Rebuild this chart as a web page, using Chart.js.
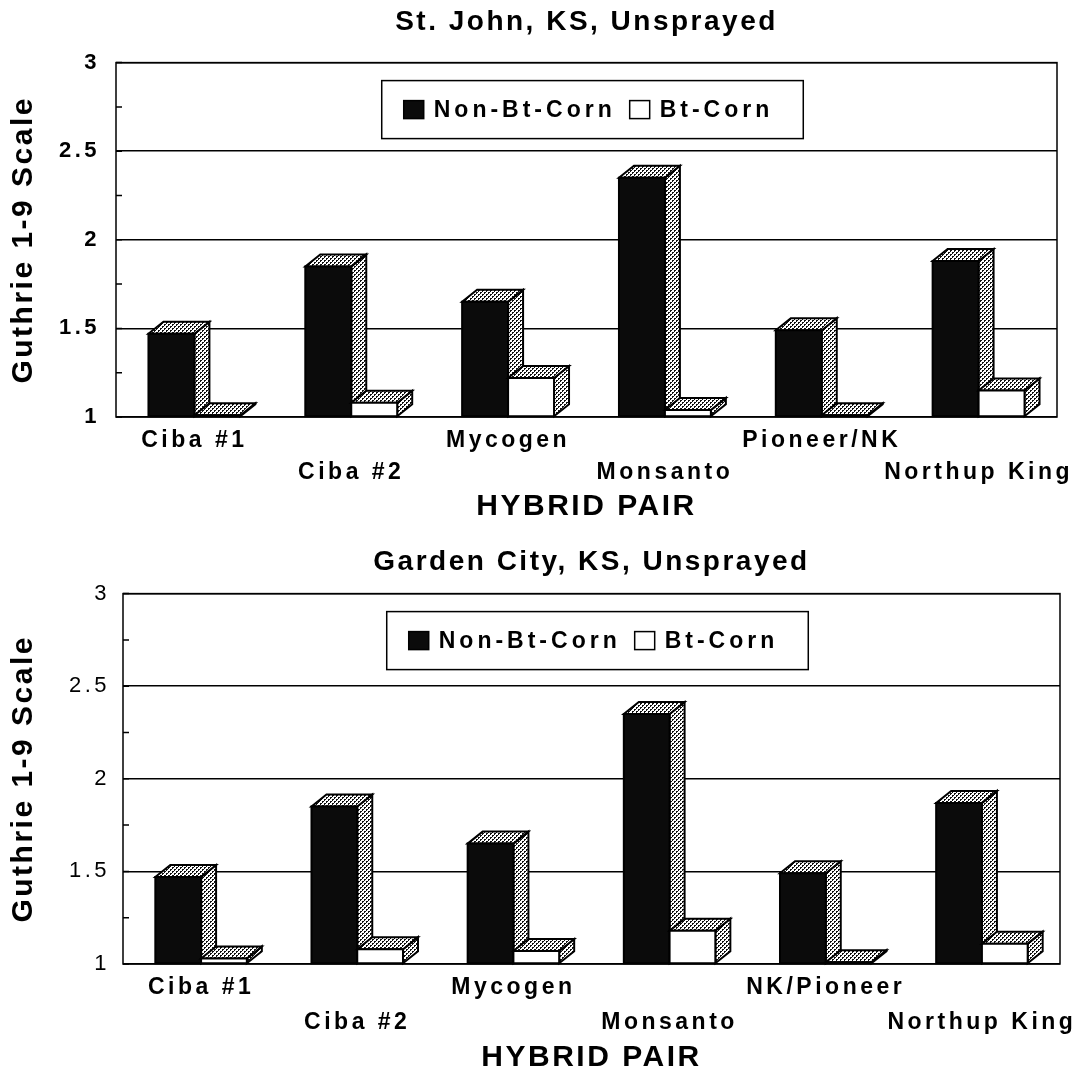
<!DOCTYPE html>
<html>
<head>
<meta charset="utf-8">
<title>Guthrie 1-9 Scale by hybrid pair</title>
<script src="https://cdn.jsdelivr.net/npm/chart.js@4.4.1/dist/chart.umd.min.js"></script>
<style>
  html, body { margin: 0; padding: 0; background: #fff; }
  canvas { display: block; }
</style>
</head>
<body>
<canvas id="stjohn" width="1085" height="535"></canvas>
<canvas id="garden" width="1085" height="544"></canvas>
<script>
"use strict";

// data
const seriesNames = ['Non-Bt-Corn', 'Bt-Corn'];
const hybridsStJohn = ['Ciba #1', 'Ciba #2', 'Mycogen', 'Monsanto', 'Pioneer/NK', 'Northup King'];
const hybridsGarden = ['Ciba #1', 'Ciba #2', 'Mycogen', 'Monsanto', 'NK/Pioneer', 'Northup King'];
const stJohnNonBt = [1.47, 1.85, 1.65, 2.35, 1.49, 1.88];
const stJohnBt = [1.01, 1.08, 1.22, 1.04, 1.01, 1.15];
const gardenNonBt = [1.47, 1.85, 1.65, 2.35, 1.49, 1.87];
const gardenBt = [1.03, 1.08, 1.07, 1.18, 1.01, 1.11];
const yMin = 1, yMax = 3, yStep = 0.25;

const FONT = '"Liberation Sans", Arial, Helvetica, sans-serif';

// dotted fill for the top and side faces
const makeStipple = (ctx) => {
    const tile = document.createElement('canvas');
    tile.width = 4; tile.height = 4;
    const t = tile.getContext('2d');
    t.fillStyle = '#fff';
    t.fillRect(0, 0, 4, 4);
    t.fillStyle = '#111';
    [[0, 0], [1, 0], [0, 1], [2, 2], [3, 2], [2, 3]].forEach(([x, y]) => t.fillRect(x, y, 1, 1));
    return ctx.createPattern(tile, 'repeat');
};

const isMajor = (v) => Math.abs(v * 2 - Math.round(v * 2)) < 1e-6;

// 3D boxes, plot frame, minor ticks and the boxed legend
const bars3d = {
    id: 'bars3d',
    afterDatasetsDraw(chart, args, opts) {
        const ctx = chart.ctx;
        const area = chart.chartArea;
        const stipple = makeStipple(ctx);
        const { dx, dy } = opts;
        const poly = (pts, fill) => {
            ctx.beginPath();
            pts.forEach(([x, y], k) => (k ? ctx.lineTo(x, y) : ctx.moveTo(x, y)));
            ctx.closePath();
            ctx.fillStyle = fill;
            ctx.fill();
            ctx.stroke();
        };

        ctx.save();
        ctx.lineWidth = 2;
        ctx.strokeStyle = '#000';
        ctx.lineJoin = 'miter';
        const metas = chart.data.datasets.map((d, i) => chart.getDatasetMeta(i));
        for (let j = 0; j < chart.data.labels.length; j++) {
            metas.forEach((meta, i) => {
                const p = meta.data[j].getProps(['x', 'y', 'base', 'width'], true);
                const l = p.x - p.width / 2, r = p.x + p.width / 2;
                const top = p.y, bot = Math.min(p.base, area.bottom);
                poly([[r, top], [r + dx, top - dy], [r + dx, bot - dy], [r, bot]], stipple);
                poly([[l, top], [r, top], [r + dx, top - dy], [l + dx, top - dy]], stipple);
                poly([[l, top], [r, top], [r, bot], [l, bot]], opts.faces[i]);
            });
        }

        // frame and short inward ticks
        ctx.lineWidth = 1.5;
        ctx.strokeRect(area.left, area.top, area.right - area.left, area.bottom - area.top);
        const ys = chart.scales.y;
        ctx.beginPath();
        for (let v = yMin; v <= yMax + 1e-9; v += yStep) {
            const py = ys.getPixelForValue(v);
            ctx.moveTo(area.left, py);
            ctx.lineTo(area.left + 6, py);
        }
        ctx.stroke();

        // legend box
        ctx.font = 'bold ' + opts.legendSize + 'px ' + FONT;
        ctx.letterSpacing = opts.legendSpacing;
        ctx.textBaseline = 'middle';
        const names = chart.data.datasets.map((d) => d.label);
        const sw = 20, gap = 10, sep = 14, padL = 22, padR = 30;
        const widths = names.map((n) => ctx.measureText(n).width);
        const boxW = padL + sw + gap + widths[0] + sep + sw + gap + widths[1] + padR;
        const boxH = 58;
        const bx = (area.left + area.right) / 2 + opts.legendShift - boxW / 2;
        const by = area.top + opts.legendTop;
        ctx.fillStyle = '#fff';
        ctx.fillRect(bx, by, boxW, boxH);
        ctx.strokeRect(bx, by, boxW, boxH);
        let cx = bx + padL;
        const cy = by + boxH / 2;
        names.forEach((n, i) => {
            ctx.fillStyle = opts.faces[i];
            ctx.fillRect(cx, cy - 9, sw, 18);
            ctx.lineWidth = 1.5;
            ctx.strokeRect(cx, cy - 9, sw, 18);
            cx += sw + gap;
            ctx.fillStyle = '#000';
            ctx.textAlign = 'left';
            ctx.fillText(n, cx, cy + 1);
            cx += widths[i] + sep;
        });
        ctx.restore();
    }
};

// old plotting packages spaced their letters wide
const spacing = {
    id: 'spacing',
    beforeDraw(chart) { chart.ctx.letterSpacing = '2.5px'; },
    afterDatasetsDraw(chart) { chart.ctx.letterSpacing = '3.5px'; },
    afterDraw(chart) { chart.ctx.letterSpacing = '0px'; }
};

const buildChart = (id, cfg) => new Chart(document.getElementById(id), {
    type: 'bar',
    data: {
        labels: cfg.labels,
        datasets: [
            { label: seriesNames[0], data: cfg.nonBt, base: yMin, backgroundColor: 'rgba(0,0,0,0)', borderWidth: 0 },
            { label: seriesNames[1], data: cfg.bt, base: yMin, backgroundColor: 'rgba(0,0,0,0)', borderWidth: 0 }
        ]
    },
    options: {
        responsive: false,
        animation: false,
        events: [],
        layout: { padding: { left: 0, right: cfg.padRight, top: 0, bottom: 0 } },
        datasets: { bar: { barPercentage: 1, categoryPercentage: 0.586 } },
        plugins: {
            legend: { display: false },
            tooltip: { enabled: false },
            title: {
                display: true,
                text: cfg.title,
                fullSize: false,
                color: '#000',
                font: { family: FONT, size: 28, weight: 'bold', lineHeight: 1.2 },
                padding: cfg.titlePad
            },
            bars3d: {
                dx: 15, dy: 12,
                faces: ['#0b0b0b', '#ffffff'],
                legendTop: 18, legendShift: 6,
                legendSize: 23, legendSpacing: '4px'
            }
        },
        scales: {
            x: {
                grid: { display: false },
                border: { display: false },
                ticks: {
                    z: 1,
                    autoSkip: false,
                    maxRotation: 0,
                    minRotation: 0,
                    padding: cfg.xTickPad,
                    color: '#000',
                    font: { family: FONT, size: 23, weight: 'bold', lineHeight: cfg.xLine },
                    callback: (v, i) => (i % 2 ? ['', cfg.labels[i]] : [cfg.labels[i], ''])
                },
                title: {
                    display: true,
                    text: 'HYBRID PAIR',
                    color: '#000',
                    font: { family: FONT, size: 30, weight: 'bold', lineHeight: 1.2 },
                    padding: { top: 0, bottom: cfg.xTitleBottom }
                },
                afterFit: (s) => { s.height = cfg.xHeight; }
            },
            y: {
                min: yMin,
                max: yMax,
                border: { display: false },
                grid: {
                    drawTicks: false,
                    lineWidth: 1.5,
                    color: (c) => (c.tick && isMajor(c.tick.value) ? '#000' : 'rgba(0,0,0,0)')
                },
                ticks: {
                    z: 1,
                    stepSize: yStep,
                    padding: cfg.yTickPad,
                    color: '#000',
                    font: { family: FONT, size: 22, weight: cfg.yWeight },
                    callback: (v) => (isMajor(v) ? String(v) : '')
                },
                title: {
                    display: true,
                    text: 'Guthrie 1-9 Scale',
                    color: '#000',
                    font: { family: FONT, size: 30, weight: 'bold', lineHeight: 1.2 },
                    padding: { top: 6, bottom: 0 }
                },
                afterFit: (s) => { s.width = cfg.yWidth; }
            }
        }
    },
    plugins: [bars3d, spacing]
});

buildChart('stjohn', {
    title: 'St. John, KS, Unsprayed',
    labels: hybridsStJohn,
    nonBt: stJohnNonBt,
    bt: stJohnBt,
    padRight: 28,
    titlePad: { top: 5, bottom: 24 },
    yWidth: 116,
    yTickPad: 16,
    yWeight: 'bold',
    xHeight: 118,
    xTickPad: 0,
    xLine: 1.39,
    xTitleBottom: 10
});

buildChart('garden', {
    title: 'Garden City, KS, Unsprayed',
    labels: hybridsGarden,
    nonBt: gardenNonBt,
    bt: gardenBt,
    padRight: 25,
    titlePad: { top: 10, bottom: 15 },
    yWidth: 123,
    yTickPad: 13,
    yWeight: 'normal',
    xHeight: 115,
    xTickPad: -2,
    xLine: 1.52,
    xTitleBottom: 3
});
</script>
</body>
</html>
